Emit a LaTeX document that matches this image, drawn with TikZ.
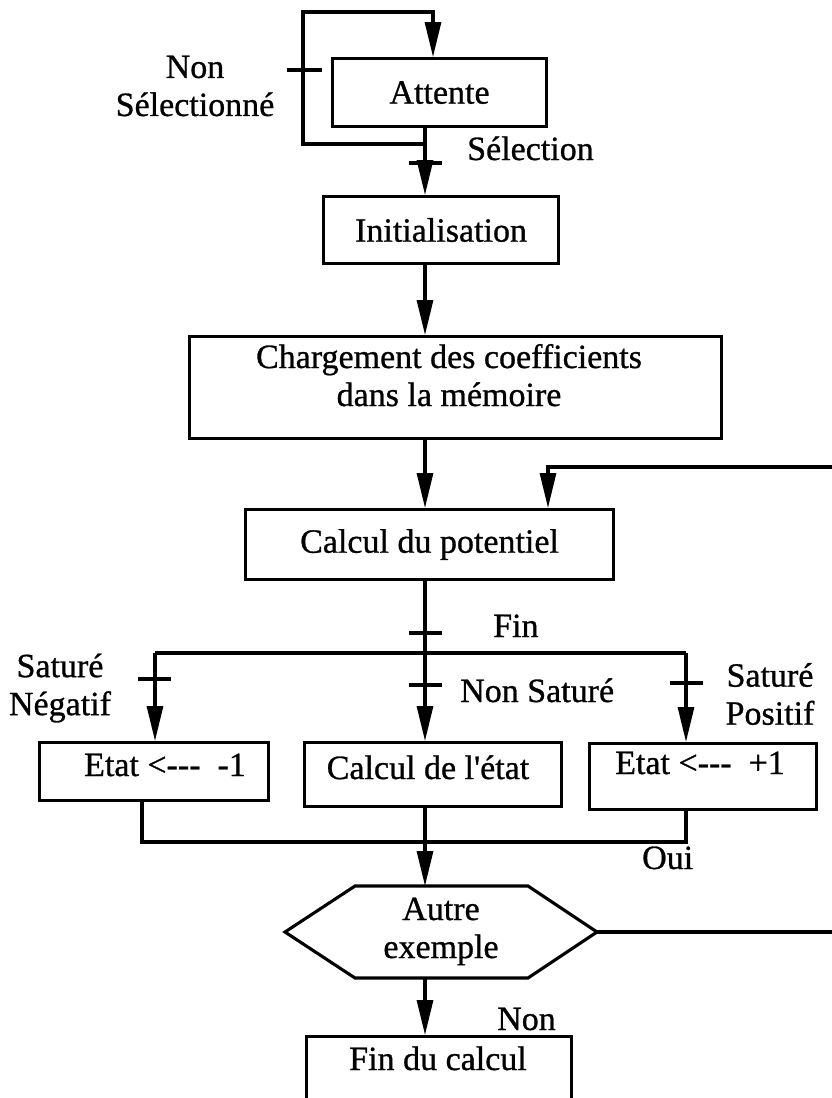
\documentclass[tikz,border=0pt]{standalone}
\usepackage{fontspec}
\setmainfont{Liberation Serif}[Ligatures=TeXOff, FakeBold=0.8]
\usetikzlibrary{arrows.meta}
\begin{document}
\begin{tikzpicture}[x=1pt,y=-1pt,
  every node/.style={font=\fontsize{34}{38}\selectfont},
  box/.style={draw, line width=3.1pt, inner sep=0pt, anchor=north west},
  wire/.style={line width=3.1pt},
  arr/.style={wire, -{Triangle[length=35pt,width=16pt]}},
  tick/.style={line width=3.1pt},
  lbl/.style={align=center, inner sep=0pt},
  txt/.style={anchor=base west, inner sep=0pt},
  intxt/.style={anchor=base, inner sep=0pt},
]
\useasboundingbox (0,0) rectangle (832,1098);
\fill[white] (0,0) rectangle (832,1098);
\clip (0,0) rectangle (832,1098);

% process boxes
\node[box, minimum width=214pt, minimum height=68pt] (att) at (331,57) {Attente};
\node[box, minimum width=235pt, minimum height=67pt] (init) at (322,195) {Initialisation};
\node[box, minimum width=532pt, minimum height=102pt] (charg) at (188,335) {};
\node[box, minimum width=368pt, minimum height=70pt] (pot) at (244,508) {Calcul du potentiel};
\node[box, minimum width=229pt, minimum height=58pt] (etm) at (38,741) {};
\node[box, minimum width=257pt, minimum height=64pt] (cet) at (303,741) {};
\node[box, minimum width=227pt, minimum height=66pt] (etp) at (588,742) {};
\node[box, minimum width=265pt, minimum height=120pt] (fin) at (305,1035) {};

% box texts
\node[intxt] (chargA) at (449,368) {Chargement des coefficients};
\node[intxt] (chargB) at (449,406) {dans la mémoire};
\node[intxt] (etmtxt) at (165,776) {Etat <---~~-1};
\node[intxt] (cettxt) at (428,779) {Calcul de l'état};
\node[intxt] (etptxt) at (700,774) {Etat <---~~+1};
\node[intxt] (fintxt) at (438,1070) {Fin du calcul};

% decision hexagon
\coordinate (hL) at (285,932);
\coordinate (hTL) at (355,886);
\coordinate (hTR) at (528,886);
\coordinate (hR) at (597,932);
\coordinate (hBR) at (528,978);
\coordinate (hBL) at (355,978);
\draw[wire, line join=miter] (hL) -- (hTL) -- (hTR) -- (hR) -- (hBR) -- (hBL) -- cycle;
\node[intxt] (hexA) at (441,920) {Autre};
\node[intxt] (hexB) at (441,958) {exemple};

% routing coordinates
\coordinate (v) at (425,0);
\coordinate (attIn) at (433,0);
\coordinate (jA) at (425,144);
\coordinate (loopL) at (303,12);
\coordinate (fb) at (548,0);
\coordinate (ret) at (845,467);
\coordinate (barL) at (155,653);
\coordinate (barR) at (686,653);
\coordinate (mL) at (142,842);
\coordinate (mR) at (686,842);

% waiting loop
\draw[wire] (att.south -| v) -- (jA);
\draw[arr] (jA) -- (jA -| loopL) -- (loopL) -- (loopL -| attIn) -- (att.north -| attIn);
\draw[arr] (jA) -- (init.north -| v);
\draw[tick] (287,70) -- (322,70);
\draw[tick] (409,163) -- (442,163);

% main flow
\draw[arr] (init.south -| v) -- (charg.north -| v);
\draw[arr] (charg.south -| v) -- (pot.north -| v);
\draw[wire] (pot.south -| v) -- (barL -| v);
\draw[tick] (409,633) -- (442,633);
\draw[wire] (barL) -- (barR);
\draw[arr] (barL) -- (etm.north -| barL);
\draw[arr] (barL -| v) -- (cet.north -| v);
\draw[arr] (barR) -- (etp.north -| barR);
\draw[tick] (138,679) -- (171,679);
\draw[tick] (409,685) -- (442,685);
\draw[tick] (670,683) -- (703,683);

% merge of the three branches
\draw[wire] (etm.south -| mL) -- (mL) -- (mR) -- (etp.south -| mR);
\draw[arr] (cet.south -| v) -- (v |- hTL);
\draw[arr] (v |- hBL) -- (fin.north -| v);

% return to the potential computation
\draw[arr] (hR) -| (ret) -| (pot.north -| fb);

% labels
\node[lbl] (nonsel) at (195,86) {Non\\Sélectionné};
\node[txt] (selection) at (467,160) {Sélection};
\node[txt] (fin1) at (493,637) {Fin};
\node[lbl] (satneg) at (60,688) {Saturé\\Négatif};
\node[txt] (nonsat) at (460,702) {Non Saturé};
\node[lbl] (satpos) at (770,694) {Saturé\\Positif};
\node[txt] (oui) at (642,869) {Oui};
\node[txt] (non2) at (497,1030) {Non};
\end{tikzpicture}
\end{document}
